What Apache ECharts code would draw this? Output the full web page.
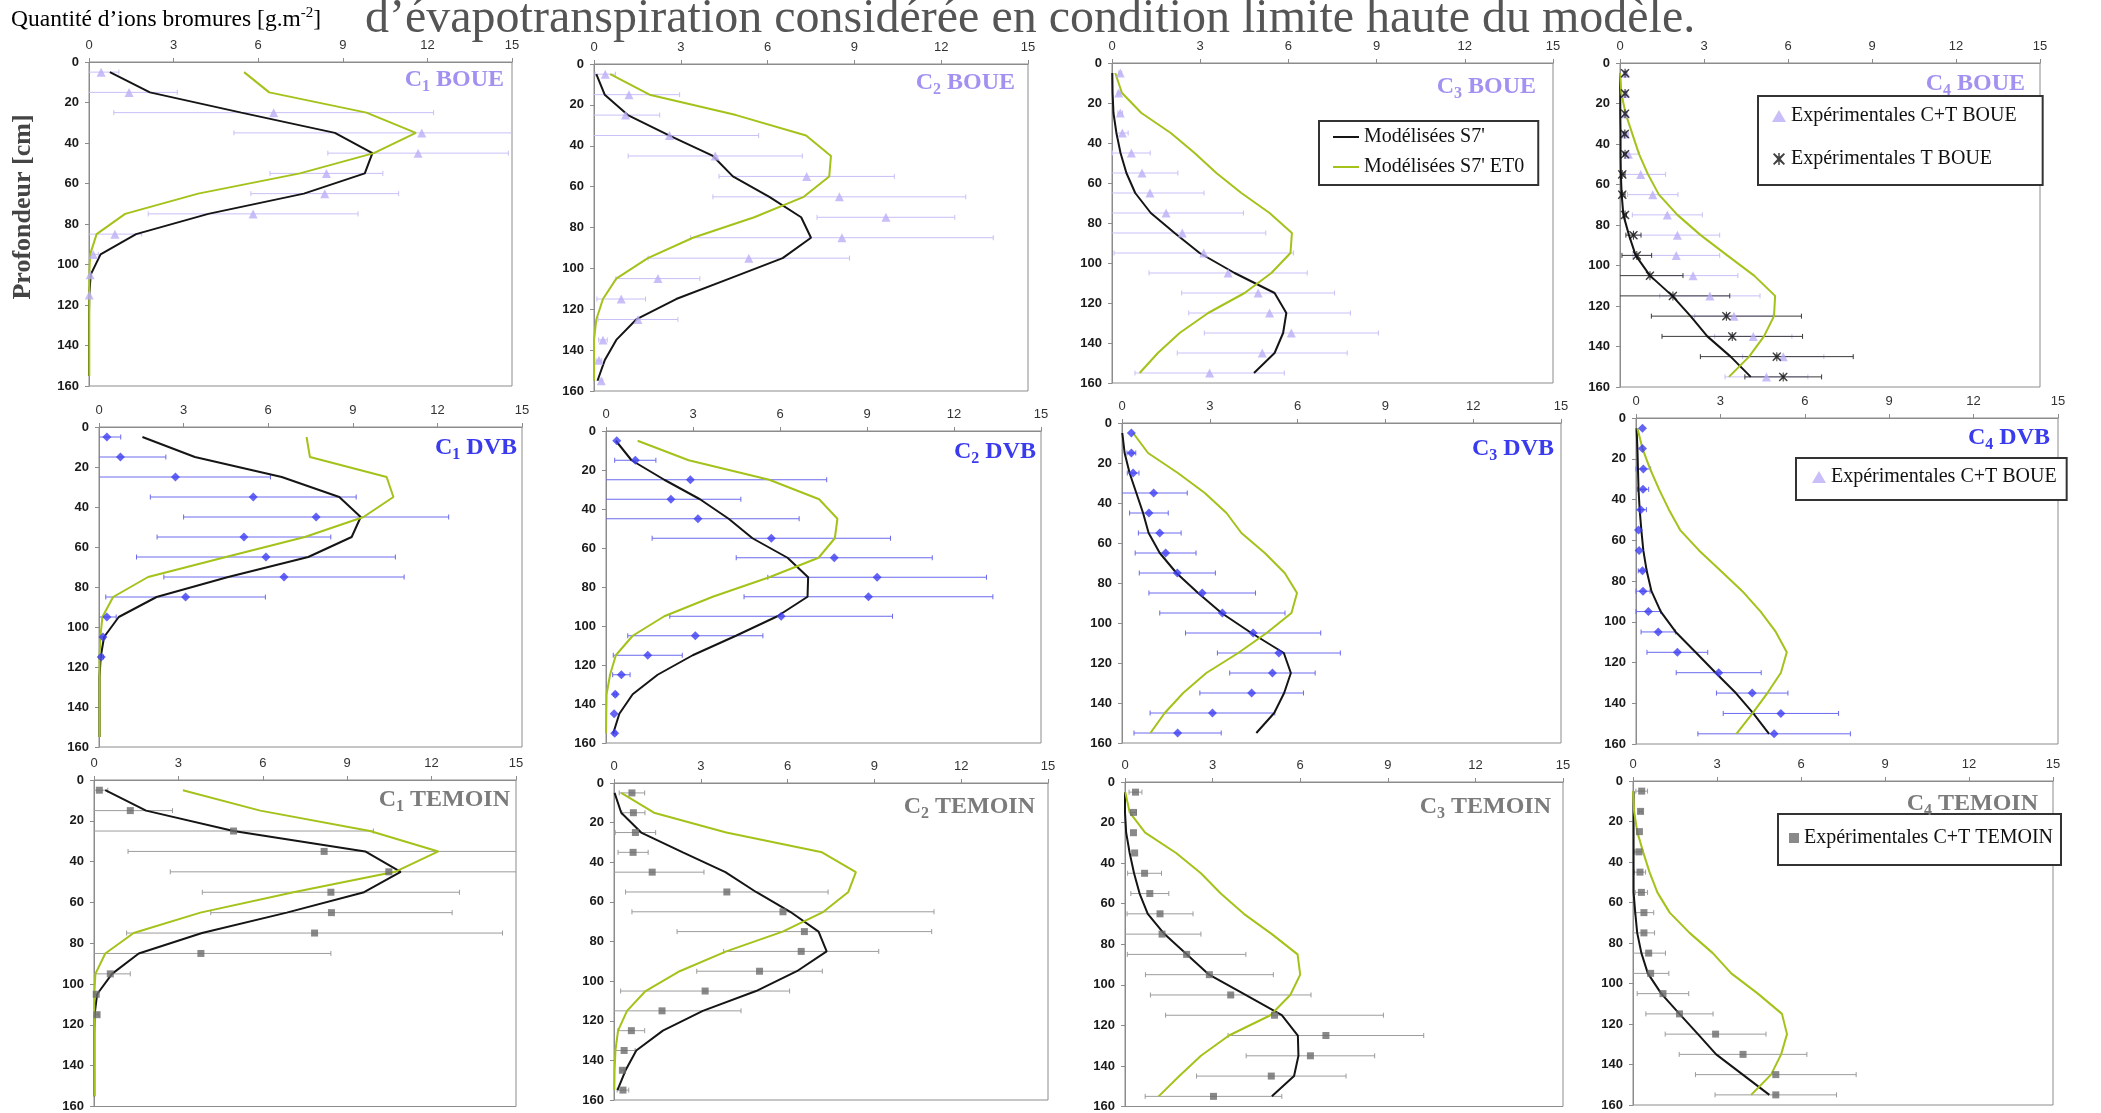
<!DOCTYPE html>
<html>
<head>
<meta charset="utf-8">
<script src="https://cdn.jsdelivr.net/npm/echarts@6/dist/echarts.min.js"></script>
<style>
html,body{margin:0;padding:0;background:#fff;}
#chart{width:2101px;height:1113px;}
</style>
</head>
<body>
<div id="chart"></div>
<script>
// ---------- data ----------
const depth = [5, 15, 25, 35, 45, 55, 65, 75, 85, 95, 105, 115, 125, 135, 145, 155];
const xMin = 0, xMax = 15, xStep = 3;
const yMin = 0, yMax = 160, yStep = 20;

// C1 BOUE
const c1BoueS7  = [0.74, 2.16, 5.4, 8.72, 10.05, 9.78, 7.62, 4.23, 1.67, 0.41, 0.06, 0.01, 0, 0, 0, 0];
const c1BoueET0 = [5.50, 6.39, 9.84, 11.59, 10.10, 7.48, 3.87, 1.28, 0.27, 0.04, 0.01, 0.01, 0.01, 0.01, 0.01, 0.01];
const c1BoueExp = [0.43, 1.42, 6.55, 11.80, 11.67, 8.42, 8.36, 5.82, 0.92, 0.15, 0.04, 0.01];
const c1BoueSd  = [0.63, 1.71, 5.67, 6.66, 3.2, 2.0, 2.62, 3.72, 0.95, 0.18, 0.03, 0.02];
// C2 BOUE
const c2BoueS7  = [0.08, 0.37, 1.17, 2.61, 4.11, 4.80, 6.06, 7.16, 7.50, 6.52, 4.68, 2.84, 1.46, 0.77, 0.37, 0.12];
const c2BoueET0 = [0.56, 1.92, 4.91, 7.33, 8.19, 8.13, 7.25, 5.54, 3.42, 1.86, 0.77, 0.31, 0.08, 0, 0, 0];
const c2BoueExp = [0.39, 1.21, 1.09, 2.61, 4.19, 7.35, 8.48, 10.09, 8.57, 5.35, 2.21, 0.94, 1.52, 0.31, 0.17, 0.25];
const c2BoueSd  = [0.35, 1.75, 1.18, 3.08, 3.01, 3.03, 4.37, 2.38, 5.23, 3.48, 1.45, 0.84, 1.38, 0.15, 0.1, 0.05];
// C3 BOUE
const c3BoueS7  = [0.01, 0.02, 0.05, 0.15, 0.29, 0.49, 0.79, 1.32, 2.13, 2.98, 4.17, 5.53, 5.93, 5.82, 5.53, 4.83];
const c3BoueET0 = [0.11, 0.34, 1.00, 2.00, 2.81, 3.55, 4.40, 5.36, 6.12, 6.07, 5.42, 4.51, 3.27, 2.30, 1.56, 0.94];
const c3BoueExp = [0.28, 0.23, 0.28, 0.35, 0.66, 1.02, 1.29, 1.84, 2.39, 3.12, 3.95, 4.97, 5.36, 6.10, 5.11, 3.32];
const c3BoueSd  = [0.05, 0.05, 0.08, 0.2, 0.64, 1.22, 1.84, 2.63, 2.84, 3.05, 2.69, 2.6, 2.75, 2.96, 2.89, 2.54];
// C4 BOUE
const c4BoueS7  = [0, 0.01, 0.01, 0.02, 0.02, 0.03, 0.06, 0.12, 0.32, 0.56, 1.07, 1.87, 2.52, 3.12, 3.95, 4.67];
const c4BoueET0 = [0, 0.05, 0.20, 0.44, 0.68, 1.0, 1.39, 2.05, 2.88, 3.83, 4.79, 5.54, 5.50, 5.14, 4.61, 3.89];
const c4BoueExp = [0.2, 0.2, 0.2, 0.2, 0.30, 0.74, 1.17, 1.69, 2.05, 2.01, 2.61, 3.21, 4.07, 4.76, 5.83, 5.23];
const c4BoueSd  = [0.05, 0.05, 0.05, 0.1, 0.4, 0.89, 0.9, 1.25, 1.51, 1.55, 1.6, 1.79, 1.4, 1.38, 1.45, 1.48];
const c4BoueT   = [0.18, 0.18, 0.18, 0.17, 0.18, 0.08, 0.08, 0.18, 0.48, 0.60, 1.07, 1.89, 3.80, 4.01, 5.60, 5.83];
const c4BoueTSd = [0, 0, 0, 0.05, 0.05, 0.1, 0.1, 0.05, 0.27, 0.53, 1.18, 2.03, 2.68, 2.51, 2.73, 1.37];
// C1 DVB
const c1DvbS7  = [1.54, 3.40, 6.48, 8.52, 9.28, 8.96, 7.42, 4.58, 2.04, 0.70, 0.18, 0.06, 0.02, 0.02, 0.02, 0.02];
const c1DvbET0 = [7.36, 7.48, 10.2, 10.44, 9.38, 7.30, 4.5, 1.74, 0.50, 0.12, 0.05, 0.02, 0.02, 0.02, 0.02, 0.02];
const c1DvbExp = [0.28, 0.76, 2.71, 5.47, 7.70, 5.14, 5.92, 6.56, 3.07, 0.28, 0.14, 0.08];
const c1DvbSd  = [0.49, 1.61, 3.37, 3.65, 4.7, 3.08, 4.59, 4.26, 2.83, 0.33, 0.08, 0.08];
// C2 DVB
const c2DvbS7  = [0.34, 0.88, 2.01, 3.24, 4.23, 5.05, 6.26, 6.97, 6.95, 5.91, 4.48, 2.99, 1.78, 0.92, 0.46, 0.25];
const c2DvbET0 = [1.09, 2.85, 5.63, 7.35, 7.98, 7.89, 7.33, 5.63, 3.68, 2.01, 0.92, 0.34, 0.14, 0.02, 0.01, 0];
const c2DvbExp = [0.37, 1.01, 2.91, 2.24, 3.17, 5.70, 7.87, 9.35, 9.05, 6.04, 3.08, 1.44, 0.53, 0.32, 0.28, 0.30];
const c2DvbSd  = [0, 0.71, 4.7, 2.41, 3.49, 4.11, 3.38, 3.77, 4.29, 3.84, 2.33, 1.19, 0.3, 0.05, 0, 0.05];
// C3 DVB
const c3DvbS7  = [0.01, 0.09, 0.26, 0.49, 0.72, 0.91, 1.29, 1.86, 2.60, 3.40, 4.42, 5.53, 5.77, 5.54, 5.20, 4.59];
const c3DvbET0 = [0.38, 0.89, 1.91, 2.83, 3.57, 4.08, 4.88, 5.56, 5.98, 5.79, 4.94, 3.97, 2.88, 2.09, 1.46, 0.97];
const c3DvbExp = [0.32, 0.32, 0.38, 1.08, 0.92, 1.29, 1.49, 1.89, 2.74, 3.43, 4.48, 5.36, 5.14, 4.43, 3.09, 1.90];
const c3DvbSd  = [0, 0.15, 0.2, 1.15, 0.66, 0.73, 1.04, 1.30, 1.82, 2.14, 2.31, 2.1, 1.46, 1.77, 2.13, 1.49];
// C4 DVB
const c4DvbS7  = [0.02, 0.05, 0.07, 0.09, 0.13, 0.19, 0.26, 0.38, 0.55, 0.88, 1.41, 2.12, 2.83, 3.55, 4.17, 4.73];
const c4DvbET0 = [0.05, 0.23, 0.50, 0.82, 1.17, 1.57, 2.24, 3.01, 3.78, 4.43, 4.97, 5.36, 5.15, 4.67, 4.14, 3.57];
const c4DvbExp = [0.23, 0.23, 0.26, 0.25, 0.17, 0.09, 0.11, 0.23, 0.25, 0.44, 0.79, 1.47, 2.94, 4.13, 5.15, 4.91];
const c4DvbSd  = [0, 0, 0.26, 0.2, 0.2, 0, 0, 0.15, 0.25, 0.44, 0.61, 1.08, 1.51, 1.27, 2.05, 2.71];
// C1 TEMOIN
const c1TemS7  = [0.40, 1.85, 4.96, 9.64, 10.90, 9.60, 6.85, 3.84, 1.59, 0.64, 0.11, 0.02, 0.01, 0.01, 0.01, 0.01];
const c1TemET0 = [3.16, 5.91, 9.81, 12.24, 10.70, 7.09, 3.78, 1.41, 0.40, 0.05, 0.01, 0.01, 0.01, 0.01, 0.01, 0.01];
const c1TemExp = [0.19, 1.29, 4.96, 8.18, 10.48, 8.42, 8.44, 7.84, 3.80, 0.58, 0.08, 0.11];
const c1TemSd  = [0.3, 1.5, 4.97, 6.97, 7.77, 4.57, 4.29, 6.68, 4.62, 0.71, 0.05, 0.06];
// C2 TEMOIN
const c2TemS7  = [0.02, 0.25, 0.94, 2.38, 3.85, 4.91, 6.09, 7.07, 7.35, 6.32, 4.91, 3.07, 1.69, 0.77, 0.40, 0.12];
const c2TemET0 = [0.25, 1.38, 3.88, 7.19, 8.36, 8.10, 7.24, 5.83, 3.88, 2.27, 1.09, 0.45, 0.14, 0.05, 0.02, 0.01];
const c2TemExp = [0.62, 0.67, 0.74, 0.66, 1.32, 3.90, 5.84, 6.58, 6.47, 5.03, 3.15, 1.66, 0.60, 0.35, 0.29, 0.31];
const c2TemSd  = [0.44, 0.4, 0.7, 0.52, 1.79, 3.5, 5.22, 4.4, 2.68, 2.17, 2.92, 2.73, 0.46, 0.38, 0.05, 0.2];
// C3 TEMOIN
const c3TemS7  = [0, 0, 0.04, 0.16, 0.31, 0.50, 0.78, 1.35, 2.12, 2.88, 4.13, 5.37, 5.92, 5.94, 5.79, 5.03];
const c3TemET0 = [0.01, 0.16, 0.69, 1.75, 2.60, 3.28, 4.07, 5.03, 5.91, 6.00, 5.66, 4.98, 3.56, 2.60, 1.86, 1.15];
const c3TemExp = [0.36, 0.29, 0.29, 0.33, 0.67, 0.85, 1.20, 1.27, 2.11, 2.89, 3.62, 5.12, 6.88, 6.35, 5.01, 3.03];
const c3TemSd  = [0.22, 0.1, 0, 0, 0.58, 0.65, 1.13, 1.33, 2.03, 2.19, 2.75, 3.73, 3.35, 2.2, 2.56, 2.34];
// C4 TEMOIN
const c4TemS7  = [0.02, 0.02, 0.02, 0.02, 0.02, 0.02, 0.08, 0.15, 0.30, 0.53, 1.01, 1.66, 2.32, 2.97, 3.92, 4.87];
const c4TemET0 = [0, 0.04, 0.15, 0.36, 0.59, 0.87, 1.31, 2.02, 2.85, 3.51, 4.46, 5.32, 5.50, 5.29, 4.93, 4.22];
const c4TemExp = [0.31, 0.27, 0.23, 0.21, 0.25, 0.30, 0.39, 0.39, 0.56, 0.63, 1.07, 1.66, 2.95, 3.93, 5.10, 5.10];
const c4TemSd  = [0.21, 0.05, 0, 0.15, 0.2, 0.22, 0.35, 0.38, 0.6, 0.65, 0.92, 1.2, 1.8, 2.28, 2.87, 2.17];

// ---------- styles ----------
const SERIF = "'Liberation Serif','Times New Roman',serif";
const SANS = "'Liberation Sans',Arial,sans-serif";
const BLACK = '#151515', GREEN = '#a3c21a';
const kinds = {
  BOUE:   {name: 'Expérimentales C+T BOUE',   symbol: 'triangle', size: 9, color: '#bcaef6', bar: '#c9bff6', title: '#a391f2'},
  DVB:    {name: 'Expérimentales C+T DVB',    symbol: 'diamond',  size: 9, color: '#3d3df3', bar: '#6a6aee', title: '#3b3bee'},
  TEMOIN: {name: 'Expérimentales C+T TEMOIN', symbol: 'rect',     size: 7, color: '#6c6c6c', bar: '#9c9c9c', title: '#7b7b7b'}
};
const STAR = 'path://M1,0 L5,3.6 L9,0 L10,1 L6.4,5 L10,9 L9,10 L5,6.4 L1,10 L0,9 L3.6,5 L0,1 Z M4.4,0 L5.6,0 L5.6,10 L4.4,10 Z';

// layout: [left, top, width, height], title right edge & centre y
const panels = [
  {s7: c1BoueS7, et0: c1BoueET0, exp: c1BoueExp, sd: c1BoueSd, kind: 'BOUE', n: '1', box: [89, 62, 423, 324], tr: 504, ty: 80},
  {s7: c2BoueS7, et0: c2BoueET0, exp: c2BoueExp, sd: c2BoueSd, kind: 'BOUE', n: '2', box: [594, 64, 434, 327], tr: 1015, ty: 83},
  {s7: c3BoueS7, et0: c3BoueET0, exp: c3BoueExp, sd: c3BoueSd, kind: 'BOUE', n: '3', box: [1112, 63, 441, 320], tr: 1536, ty: 87},
  {s7: c4BoueS7, et0: c4BoueET0, exp: c4BoueExp, sd: c4BoueSd, kind: 'BOUE', n: '4', box: [1620, 63, 420, 324], tr: 2025, ty: 84, t: c4BoueT, tsd: c4BoueTSd},
  {s7: c1DvbS7, et0: c1DvbET0, exp: c1DvbExp, sd: c1DvbSd, kind: 'DVB', n: '1', box: [99, 427, 423, 320], tr: 517, ty: 448},
  {s7: c2DvbS7, et0: c2DvbET0, exp: c2DvbExp, sd: c2DvbSd, kind: 'DVB', n: '2', box: [606, 431, 435, 312], tr: 1036, ty: 452},
  {s7: c3DvbS7, et0: c3DvbET0, exp: c3DvbExp, sd: c3DvbSd, kind: 'DVB', n: '3', box: [1122, 423, 439, 320], tr: 1554, ty: 449},
  {s7: c4DvbS7, et0: c4DvbET0, exp: c4DvbExp, sd: c4DvbSd, kind: 'DVB', n: '4', box: [1636, 418, 422, 326], tr: 2050, ty: 438},
  {s7: c1TemS7, et0: c1TemET0, exp: c1TemExp, sd: c1TemSd, kind: 'TEMOIN', n: '1', box: [94, 780, 422, 328], tr: 510, ty: 800},
  {s7: c2TemS7, et0: c2TemET0, exp: c2TemExp, sd: c2TemSd, kind: 'TEMOIN', n: '2', box: [614, 783, 434, 317], tr: 1035, ty: 807},
  {s7: c3TemS7, et0: c3TemET0, exp: c3TemExp, sd: c3TemSd, kind: 'TEMOIN', n: '3', box: [1125, 782, 438, 325], tr: 1551, ty: 807},
  {s7: c4TemS7, et0: c4TemET0, exp: c4TemExp, sd: c4TemSd, kind: 'TEMOIN', n: '4', box: [1633, 781, 420, 324], tr: 2038, ty: 804}
];

function errRender(color) {
  return function (params, api) {
    const x = api.value(0), sd = api.value(1), d = api.value(2);
    if (!(sd > 0)) return;
    const lo = Math.max(xMin, x - sd), hi = Math.min(xMax, x + sd);
    const a = api.coord([lo, d]), b = api.coord([hi, d]);
    const st = {stroke: color, lineWidth: 1};
    const ch = [{type: 'line', shape: {x1: a[0], y1: a[1], x2: b[0], y2: b[1]}, style: st}];
    if (x - sd >= xMin) ch.push({type: 'line', shape: {x1: a[0], y1: a[1] - 2.5, x2: a[0], y2: a[1] + 2.5}, style: st});
    if (x + sd <= xMax) ch.push({type: 'line', shape: {x1: b[0], y1: b[1] - 2.5, x2: b[0], y2: b[1] + 2.5}, style: st});
    return {type: 'group', children: ch};
  };
}

const grids = [], xAxes = [], yAxes = [], series = [], titles = [];
panels.forEach((p, i) => {
  const k = kinds[p.kind];
  grids.push({left: p.box[0], top: p.box[1], width: p.box[2], height: p.box[3], show: true, borderColor: '#8c8c8c', borderWidth: 1});
  xAxes.push({type: 'value', gridIndex: i, position: 'top', min: xMin, max: xMax, interval: xStep,
    axisLine: {show: true, onZero: false, lineStyle: {color: '#8c8c8c'}},
    axisTick: {show: true, length: 4, lineStyle: {color: '#8c8c8c'}},
    axisLabel: {margin: 10, fontFamily: SANS, fontSize: 13, color: '#333'},
    splitLine: {show: false}});
  yAxes.push({type: 'value', gridIndex: i, inverse: true, min: yMin, max: yMax, interval: yStep,
    axisLine: {show: true, onZero: false, lineStyle: {color: '#8c8c8c'}},
    axisTick: {show: true, length: 4, lineStyle: {color: '#8c8c8c'}},
    axisLabel: {margin: 10, fontFamily: SANS, fontSize: 13, fontWeight: 'bold', color: '#1a1a1a'},
    splitLine: {show: false}});
  const ax = {xAxisIndex: i, yAxisIndex: i};
  series.push(Object.assign({type: 'custom', name: 'err' + i, silent: true, z: 1,
    renderItem: errRender(k.bar), encode: {x: 0, y: 2},
    data: p.exp.map((v, j) => [v, p.sd[j], depth[j]])}, ax));
  if (p.t) {
    series.push(Object.assign({type: 'custom', name: 'errT' + i, silent: true, z: 1,
      renderItem: errRender('#3a3a3a'), encode: {x: 0, y: 2},
      data: p.t.map((v, j) => [v, p.tsd[j], depth[j]])}, ax));
  }
  series.push(Object.assign({type: 'line', name: "Modélisées S7'", symbol: 'none', z: 2,
    lineStyle: {color: BLACK, width: 2}, itemStyle: {color: BLACK},
    data: p.s7.map((v, j) => [v, depth[j]])}, ax));
  series.push(Object.assign({type: 'line', name: "Modélisées S7' ET0", symbol: 'none', z: 2,
    lineStyle: {color: GREEN, width: 2}, itemStyle: {color: GREEN},
    data: p.et0.map((v, j) => [v, depth[j]])}, ax));
  series.push(Object.assign({type: 'scatter', name: k.name, symbol: k.symbol, symbolSize: k.size, z: 3,
    itemStyle: {color: k.color},
    data: p.exp.map((v, j) => [v, depth[j]])}, ax));
  if (p.t) {
    series.push(Object.assign({type: 'scatter', name: 'Expérimentales T BOUE', symbol: STAR, symbolSize: 9, z: 4,
      itemStyle: {color: '#111'},
      data: p.t.map((v, j) => [v, depth[j]])}, ax));
  }
  titles.push({text: '{a|C}{s|' + p.n + '}{a| ' + p.kind + '}', right: 2101 - p.tr, top: p.ty - 15, padding: 0,
    textStyle: {rich: {
      a: {fontFamily: SERIF, fontWeight: 'bold', fontSize: 24, color: k.title, lineHeight: 30, verticalAlign: 'middle'},
      s: {fontFamily: SERIF, fontWeight: 'bold', fontSize: 16, color: k.title, lineHeight: 30, verticalAlign: 'bottom'}
    }}});
});

const legendText = {fontFamily: SERIF, fontSize: 20, color: '#111'};
const legendBase = {orient: 'vertical', borderColor: '#333', borderWidth: 2, backgroundColor: '#fff',
  textStyle: legendText, selectedMode: false};
const legends = [
  Object.assign({}, legendBase, {left: 1319, top: 121, padding: [6, 14, 8, 14], itemGap: 10, itemWidth: 26, itemHeight: 2,
    data: [{name: "Modélisées S7'", icon: 'rect'}, {name: "Modélisées S7' ET0", icon: 'rect'}]}),
  Object.assign({}, legendBase, {left: 1758, top: 96, padding: [10, 26, 16, 14], itemGap: 23, itemWidth: 14, itemHeight: 12,
    data: ['Expérimentales C+T BOUE', 'Expérimentales T BOUE']}),
  Object.assign({}, legendBase, {left: 1796, top: 458, padding: [9, 10, 13, 16], itemGap: 10, itemWidth: 14, itemHeight: 12,
    data: ['Expérimentales C+T BOUE']}),
  Object.assign({}, legendBase, {left: 1778, top: 814, padding: [14, 8, 17, 11], itemGap: 10, itemWidth: 10, itemHeight: 10,
    data: ['Expérimentales C+T TEMOIN']})
];

const chart = echarts.init(document.getElementById('chart'), null, {renderer: 'canvas'});
chart.setOption({
  animation: false,
  backgroundColor: '#fff',
  title: titles,
  legend: legends,
  grid: grids,
  xAxis: xAxes,
  yAxis: yAxes,
  series: series,
  graphic: [
    {type: 'text', x: 11, y: 6, style: {
      text: '{a|Quantité d’ions bromures [g.m}{b|-2}{a|]}',
      rich: {a: {fontFamily: SERIF, fontSize: 23.5, color: '#555', lineHeight: 28, verticalAlign: 'middle'},
             b: {fontFamily: SERIF, fontSize: 15, color: '#555', lineHeight: 28, verticalAlign: 'top'}}}},
    {type: 'text', x: 365, y: 19, style: {
      text: 'd’évapotranspiration considérée en condition limite haute du modèle.',
      fontFamily: SERIF, fontSize: 48, fill: '#555', verticalAlign: 'middle'}},
    {type: 'text', x: 23, y: 207, rotation: Math.PI / 2, style: {
      text: 'Profondeur [cm]', fontFamily: SERIF, fontSize: 26, fontWeight: 'bold', fill: '#444',
      align: 'center', verticalAlign: 'middle'}}
  ]
});
</script>
</body>
</html>
